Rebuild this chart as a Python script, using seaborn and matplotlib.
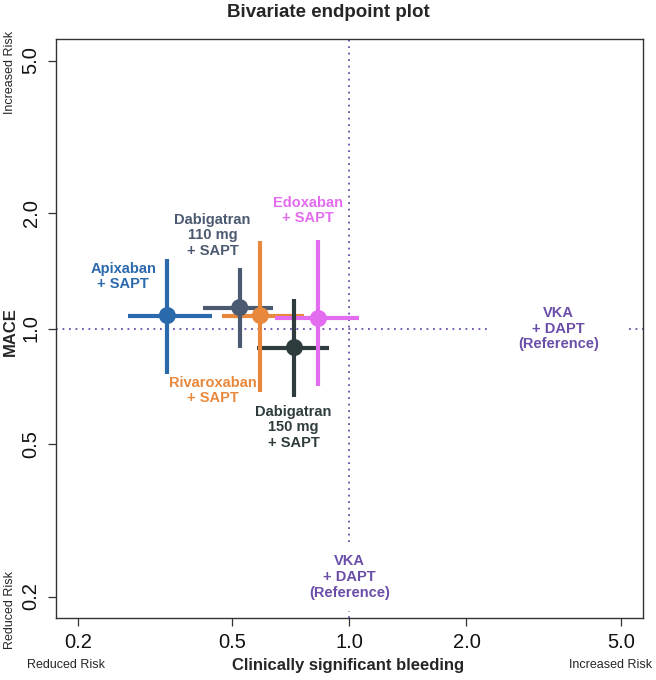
import numpy as np
import pandas as pd
import seaborn as sns
import matplotlib.pyplot as plt

# values (hazard ratios, log scale)
arms = ["Apixaban\n+ SAPT", "Dabigatran\n110 mg\n+ SAPT", "Rivaroxaban\n+ SAPT",
        "Edoxaban\n+ SAPT", "Dabigatran\n150 mg\n+ SAPT"]
bleed_hr = [0.340, 0.522, 0.590, 0.832, 0.722]
bleed_lo = [0.269, 0.419, 0.469, 0.645, 0.577]
bleed_hi = [0.444, 0.634, 0.766, 1.061, 0.888]
mace_hr = [1.081, 1.134, 1.081, 1.062, 0.892]
mace_lo = [0.763, 0.892, 0.685, 0.706, 0.661]
mace_hi = [1.52, 1.44, 1.69, 1.70, 1.197]
tick_vals = [0.2, 0.5, 1.0, 2.0, 5.0]
ref_label = "VKA\n+ DAPT\n(Reference)"

# layout
colors = ["#2a69ac", "#4b5a70", "#e8883c", "#e46cf0", "#2e3c3e"]
lab_x = [0.262, 0.444, 0.444, 0.78, 0.718]
lab_y = [1.366, 1.75, 0.689, 2.03, 0.552]
ref_col = "#6a4ea8"

df = pd.DataFrame({"arm": arms, "bleed": bleed_hr, "blo": bleed_lo, "bhi": bleed_hi,
                   "mace": mace_hr, "mlo": mace_lo, "mhi": mace_hi})

sns.set_theme(style="ticks")
plt.rcParams["font.family"] = ["Liberation Sans", "DejaVu Sans"]

fig = plt.figure(figsize=(6.56, 6.80), dpi=100)
ax = fig.add_axes([0.0854, 0.0912, 0.8946, 0.8514])
ax.set_xscale("log")
ax.set_yscale("log")
lim = (10 ** (np.log10(0.2) - 0.056), 10 ** (np.log10(5.0) + 0.056))
ax.set_xlim(lim)
ax.set_ylim(lim)

# reference lines with gaps around the reference labels
rx, ry = 3.45, 0.225
dots = (0, (1, 2.6))
ax.hlines(1.0, lim[0], rx / 1.52, color=ref_col, lw=1.3, linestyles=[dots], zorder=1)
ax.hlines(1.0, rx * 1.52, lim[1], color=ref_col, lw=1.3, linestyles=[dots], zorder=1)
ax.vlines(1.0, ry * 1.23, lim[1], color=ref_col, lw=1.3, linestyles=[dots], zorder=1)
ax.vlines(1.0, lim[0], ry / 1.23, color=ref_col, lw=1.3, linestyles=[dots], zorder=1)
ax.text(rx, 1.0, ref_label, color=ref_col, ha="center", va="center",
        fontsize=10.5, fontweight="bold", linespacing=1.15)
ax.text(1.0, ry, ref_label, color=ref_col, ha="center", va="center",
        fontsize=10.5, fontweight="bold", linespacing=1.15)

# confidence intervals: horizontals first, then verticals, then points
ax.hlines(df["mace"], df["blo"], df["bhi"], colors=colors, lw=3.0, zorder=2)
ax.vlines(df["bleed"], df["mlo"], df["mhi"], colors=colors, lw=3.0, zorder=3)
sns.scatterplot(data=df, x="bleed", y="mace", hue="arm", palette=colors,
                s=150, edgecolor="none", legend=False, zorder=4, ax=ax)

for i in range(len(arms)):
    ax.text(lab_x[i], lab_y[i], arms[i], color=colors[i], ha="center", va="center",
            fontsize=10.5, fontweight="bold", linespacing=1.15)

ax.xaxis.set_minor_locator(plt.NullLocator())
ax.yaxis.set_minor_locator(plt.NullLocator())
ax.set_xticks(tick_vals)
ax.set_xticklabels([f"{v:.1f}" for v in tick_vals])
ax.set_yticks(tick_vals)
ax.set_yticklabels([f"{v:.1f}" for v in tick_vals], rotation=90, va="center")
ax.tick_params(axis="both", length=6, width=0.9, color="#333333",
               labelsize=14.5, labelcolor="#111111", pad=5)
for s in ax.spines.values():
    s.set_color("#333333")
    s.set_linewidth(1.0)

ax.set_xlabel("")
ax.set_ylabel("")
fig.text(0.53, 0.022, "Clinically significant bleeding", ha="center", va="center",
         fontsize=12, fontweight="bold")
fig.text(0.016, 0.513, "MACE", ha="center", va="center", rotation=90,
         fontsize=12, fontweight="bold")
fig.text(0.1, 0.022, "Reduced Risk", ha="center", va="center", fontsize=9)
fig.text(0.93, 0.022, "Increased Risk", ha="center", va="center", fontsize=9)
fig.text(0.016, 0.103, "Reduced Risk", ha="center", va="center", rotation=90, fontsize=9)
fig.text(0.016, 0.893, "Increased Risk", ha="center", va="center", rotation=90, fontsize=9)
fig.text(0.5, 0.982, "Bivariate endpoint plot", ha="center", va="center",
         fontsize=13.5, fontweight="bold")

fig.savefig("out.png", dpi=100, facecolor="white")
